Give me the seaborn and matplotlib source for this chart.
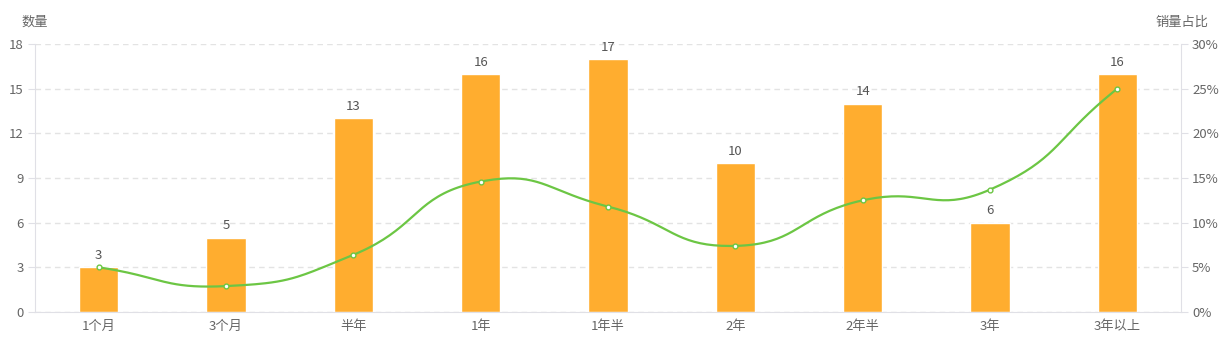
import numpy as np
import pandas as pd
import seaborn as sns
import matplotlib.pyplot as plt

categories = ['1个月', '3个月', '半年', '1年', '1年半', '2年', '2年半', '3年', '3年以上']
counts = [3, 5, 13, 16, 17, 10, 14, 6, 16]
share = [5.0, 2.9, 6.4, 14.6, 11.8, 7.4, 12.5, 13.7, 25.0]

sns.set_style('white')
plt.rcParams['font.family'] = ['Noto Sans CJK SC', 'DejaVu Sans']

bar_color = '#FFAD2F'
line_color = '#6CC644'
text_color = '#666666'
axis_color = '#E0E0E6'

df = pd.DataFrame({'cat': categories, 'count': counts, 'share': share})

fig = plt.figure(figsize=(12.32, 3.56), dpi=100)
ax = fig.add_axes([35 / 1232, 1 - 312 / 356, (1181 - 35) / 1232, 268 / 356])
sns.barplot(data=df, x='cat', y='count', color=bar_color, width=0.31,
            saturation=1, ax=ax, zorder=2)
ax.set_xlim(-0.5, len(categories) - 0.5)
ax.set_ylim(0, 18)
ax.set_yticks(range(0, 19, 3))
ax.set_xlabel('')
ax.set_ylabel('')
for i, v in enumerate(counts):
    ax.text(i, v + 0.35, str(v), ha='center', va='bottom', fontsize=9.5, color='#555555')

ax.grid(axis='y', color='#E3E3E3', linestyle=(0, (4, 3)), linewidth=1, zorder=0)
ax.set_axisbelow(True)
for s in ['top', 'right']:
    ax.spines[s].set_visible(False)
ax.spines['left'].set_color(axis_color)
ax.spines['bottom'].set_color(axis_color)
ax.tick_params(axis='y', colors=text_color, labelsize=9.5, length=5, color=axis_color, pad=3)
ax.tick_params(axis='x', colors=text_color, labelsize=9.5, length=0, pad=6)
# boundary ticks between categories
ax.set_xticks(np.arange(-0.5, len(categories), 1), minor=True)
ax.tick_params(axis='x', which='minor', length=5, color=axis_color)

ax2 = ax.twinx()
ax2.set_ylim(0, 30)
ax2.set_yticks(range(0, 31, 5))
ax2.set_yticklabels([f'{t}%' for t in range(0, 31, 5)])
for s in ['top', 'left', 'bottom']:
    ax2.spines[s].set_visible(False)
ax2.spines['right'].set_color(axis_color)
ax2.tick_params(axis='y', colors=text_color, labelsize=9.5, length=5, color=axis_color, pad=3)
ax2.grid(False)

# smooth curve like echarts (bezier with smoothing 0.5), in pixel-like space
px_x, px_y = 127.3, 268 / 30
pts = np.column_stack([np.arange(len(share)) * px_x, np.array(share) * px_y])
n = len(pts)
cps = []
for i in range(n):
    prev = pts[max(i - 1, 0)]
    nxt = pts[min(i + 1, n - 1)]
    cur = pts[i]
    v = (nxt - prev) * 0.5
    d0 = np.linalg.norm(cur - prev)
    d1 = np.linalg.norm(cur - nxt)
    tot = d0 + d1 if d0 + d1 > 0 else 1
    cps.append((cur - v * d0 / tot, cur + v * d1 / tot))
curve = []
t = np.linspace(0, 1, 40)[:, None]
for i in range(n - 1):
    p0, p3 = pts[i], pts[i + 1]
    p1, p2 = cps[i][1], cps[i + 1][0]
    seg = (1 - t) ** 3 * p0 + 3 * (1 - t) ** 2 * t * p1 + 3 * (1 - t) * t ** 2 * p2 + t ** 3 * p3
    curve.append(seg)
curve = np.vstack(curve)
ax2.plot(curve[:, 0] / px_x, curve[:, 1] / px_y, color=line_color, linewidth=1.6, zorder=3)
sns.scatterplot(x=np.arange(n), y=share, ax=ax2, s=12, color='white',
                edgecolor=line_color, linewidth=1, zorder=4)

fig.text(35 / 1232, 1 - 22 / 356, '数量', ha='center', va='center', fontsize=9.5, color=text_color)
fig.text(1182 / 1232, 1 - 22 / 356, '销量占比', ha='center', va='center', fontsize=9.5, color=text_color)

fig.savefig('out.png', dpi=100)
